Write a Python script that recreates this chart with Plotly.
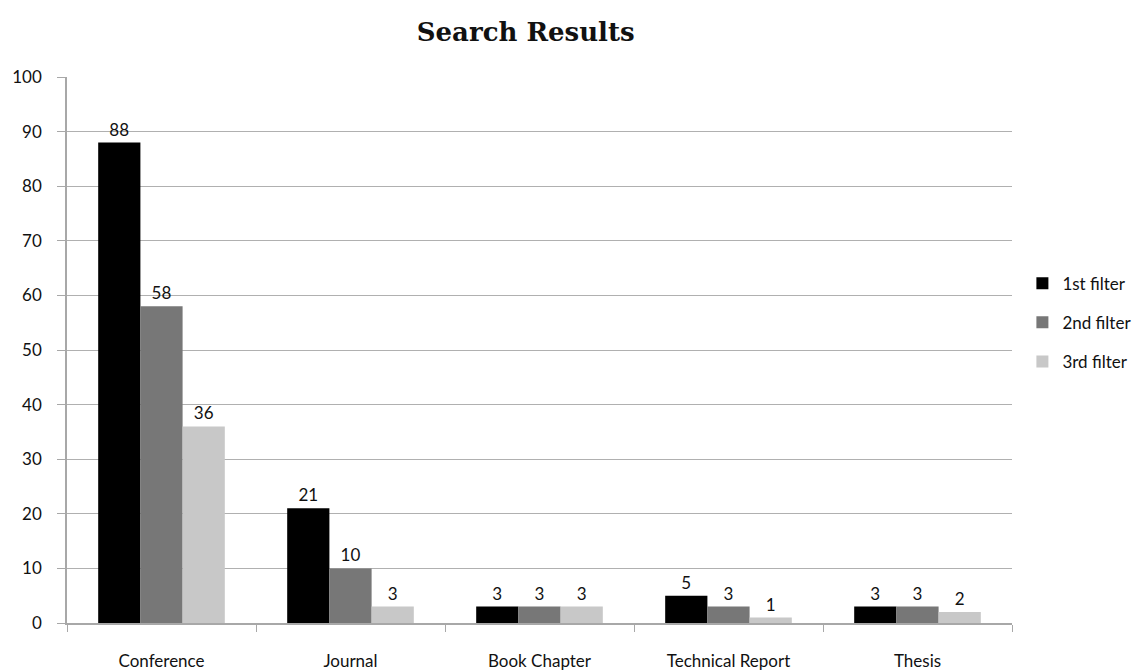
import plotly.graph_objects as go

categories = ["Conference", "Journal", "Book Chapter", "Technical Report", "Thesis"]
first_filter = [88, 21, 3, 5, 3]
second_filter = [58, 10, 3, 3, 3]
third_filter = [36, 3, 3, 1, 2]
series_names = ["1st filter", "2nd filter", "3rd filter"]
y_ticks = [0, 10, 20, 30, 40, 50, 60, 70, 80, 90, 100]

colors = ["#000000", "#777777", "#c8c8c8"]
font_family = "Lato, 'Open Sans', sans-serif"

fig = go.Figure()
for name, vals, col in zip(series_names, [first_filter, second_filter, third_filter], colors):
    fig.add_trace(go.Bar(
        x=categories, y=vals, name=name, legendgroup=name,
        marker=dict(color=col, line=dict(width=0)),
        text=[str(v) for v in vals], textposition="outside",
        textfont=dict(size=17, color="#111111", family=font_family),
        cliponaxis=False,
    ))

fig.update_layout(
    width=1133, height=672,
    margin=dict(l=67, r=121, t=77, b=49, autoexpand=False),
    paper_bgcolor="white", plot_bgcolor="white",
    barmode="group", bargap=0.33, bargroupgap=0,
    font=dict(family=font_family, size=17, color="#111111"),
    title=dict(text="<b>Search Results</b>", x=0.464, xanchor="center", y=0.952, yanchor="middle",
               font=dict(family="'DejaVu Serif', 'Liberation Serif', serif", size=26, color="#111111")),
    legend=dict(x=1.011, y=0.55, xanchor="left", yanchor="middle", font=dict(size=17),
                tracegroupgap=14, itemwidth=30, bgcolor="rgba(0,0,0,0)"),
    xaxis=dict(showline=True, linecolor="#a8a8a8", linewidth=1.5, ticks="outside", ticklen=7,
               tickcolor="#a8a8a8", tickson="boundaries", showgrid=False, automargin=False,
               ticklabelstandoff=22, tickfont=dict(size=17)),
    yaxis=dict(range=[0, 100], tickvals=y_ticks, showgrid=True, gridcolor="#b0b0b0", gridwidth=1.2,
               showline=True, linecolor="#a8a8a8", linewidth=1.5, ticks="outside", ticklen=8,
               tickcolor="#a8a8a8", zeroline=False, tickfont=dict(size=17), ticklabelstandoff=12,
               automargin=False),
)

fig.write_html("out.html")
